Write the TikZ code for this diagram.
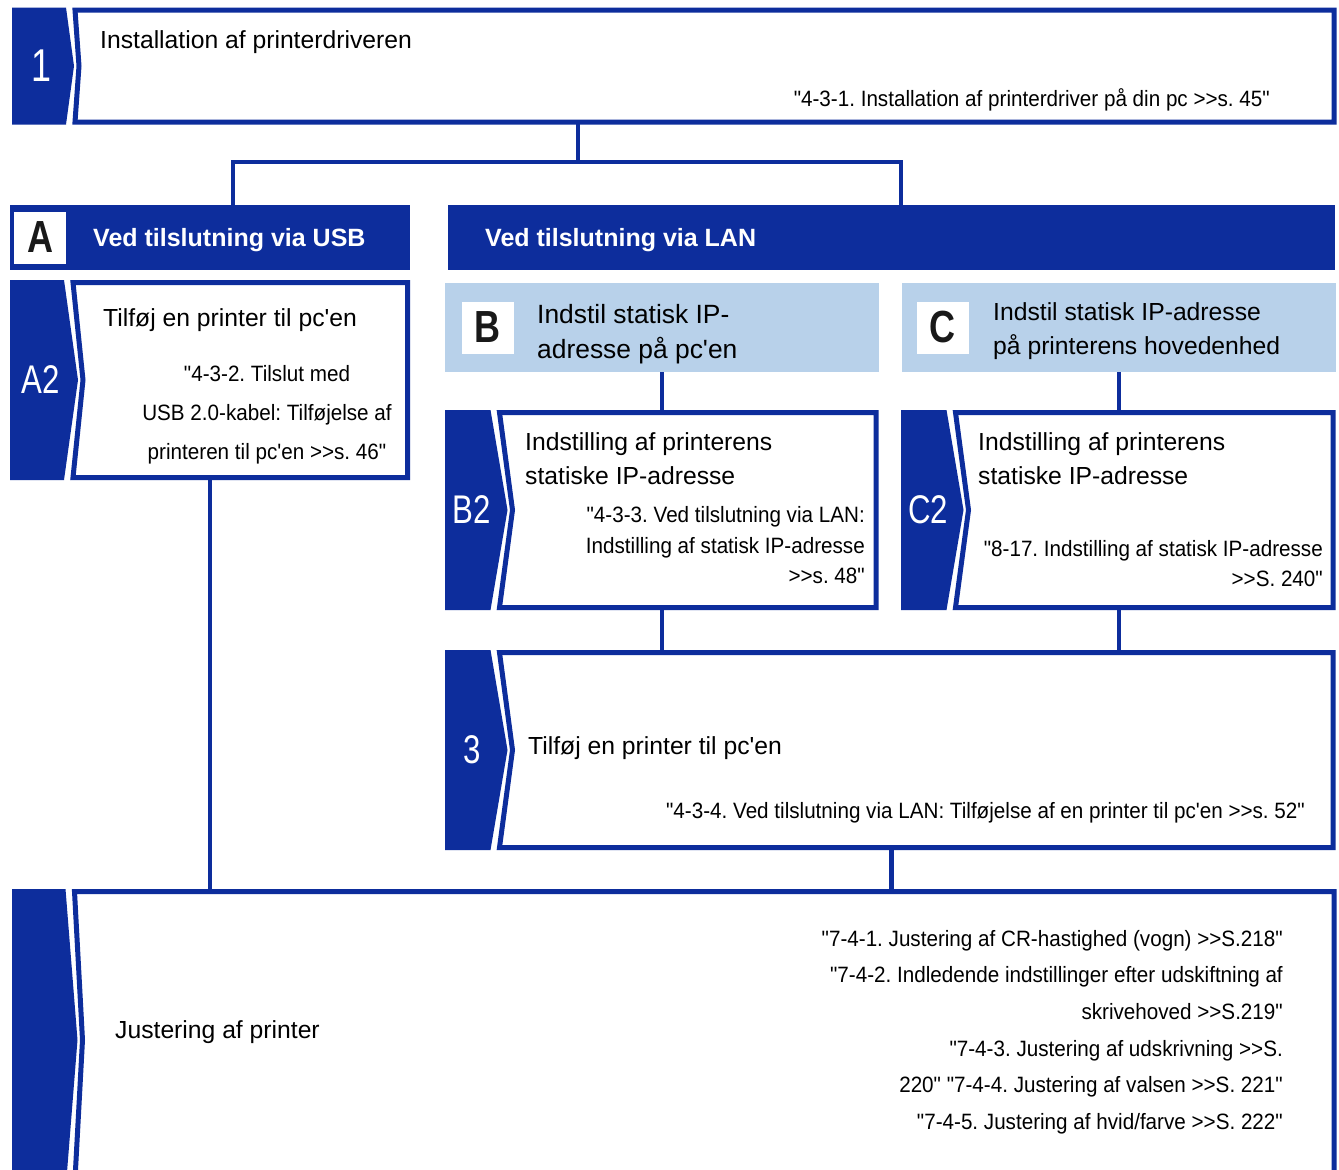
\documentclass[tikz,border=0pt]{standalone}
\usepackage{fontspec}
\setmainfont{Liberation Sans}[Ligatures=TeXOff]
\newfontfamily\reffont{Liberation Sans}[FakeStretch=0.93,Ligatures=TeXOff]
\newfontfamily\tabfont{Liberation Sans}[FakeStretch=0.78,Ligatures=TeXOff]
\newfontfamily\keyfont{Liberation Sans}[FakeStretch=0.8,Ligatures=TeXOff]
\definecolor{epblue}{RGB}{13,45,156}
\definecolor{eplight}{RGB}{184,209,234}
\frenchspacing

% blue tab + outlined box round a frame node: name, tab width, chevron depth, tab label
\newcommand\stepframe[4]{%
 \fill[epblue] ([xshift=-9pt-#2,yshift=2.5pt]#1.north west) -- ([xshift=-9pt,yshift=2.5pt]#1.north west)
  -- ([xshift=#3-9pt]#1.west) -- ([xshift=-9pt,yshift=-2.5pt]#1.south west) -- ([xshift=-9pt-#2,yshift=-2.5pt]#1.south west) -- cycle;
 \draw[frameline] (#1.north west) -- (#1.north east) -- (#1.south east) -- (#1.south west) -- ([xshift=#3-4pt]#1.west) -- cycle;
 \node[tabnum] (#1-num) at ([xshift=-9pt-#2/2+#3/4]#1.west) {#4};
}

\begin{document}
\begin{tikzpicture}[x=1pt,y=-1pt,
 stepbox/.style 2 args={inner sep=0,outer sep=0,minimum width=#1,minimum height=#2},
 hdr/.style 2 args={fill=epblue,inner sep=0,outer sep=0,minimum width=#1,minimum height=#2},
 subhdr/.style 2 args={fill=eplight,inner sep=0,outer sep=0,minimum width=#1,minimum height=#2},
 frameline/.style={draw=epblue,line width=5pt,line join=miter},
 link/.style={draw=epblue,line width=4.5pt},
 tabnum/.style={text=white,font=\tabfont\fontsize{40}{40}\selectfont,inner sep=0},
 keybox/.style={fill=white,minimum size=52,inner sep=0,text=black!90,font=\keyfont\bfseries\fontsize{45}{45}\selectfont},
 hdrtext/.style={text=white,font=\bfseries\fontsize{25}{30}\selectfont,inner sep=0,anchor=west},
 titletext/.style={font=\fontsize{24.7}{34}\selectfont,inner sep=0,align=left,anchor=west},
 reftext/.style={font=\reffont\fontsize{22.2}{#1}\selectfont,inner sep=0},
 reftext/.default=30.5]
\useasboundingbox (0,0) rectangle (1339,1170);
\clip (0,0) rectangle (1339,1170);
\fill[white] (0,0) rectangle (1339,1170);

% frames of the steps
\node[stepbox={1259}{112}] (inst) at (704.5,66) {};
\node[stepbox={334.5}{195}] (a2) at (240.25,380) {};
\node[stepbox={376.5}{195}] (b2) at (687.75,510) {};
\node[stepbox={377.5}{195}] (c2) at (1144.25,510) {};
\node[stepbox={833.5}{195}] (s3) at (916.25,750) {};
\node[stepbox={1259.5}{297}] (adj) at (704.25,1040) {};

% headers
\node[hdr={400}{65}] (usbhd) at (210,237.5) {};
\node[hdr={887}{65}] (lanhd) at (891.5,237.5) {};
\node[subhdr={434}{89}] (ipPc) at (662,327.5) {};
\node[subhdr={434}{89}] (ipPrn) at (1119,327.5) {};
\node[keybox] (usbKey) at (40,237.5) {A};
\node[keybox] (pcKey) at (487.5,327.5) {B};
\node[keybox] (prnKey) at (942.5,327.5) {C};

% connectors
\coordinate (split) at (578,162);
\draw[link] (inst.south -| split) -- (split);
\draw[link] ([xshift=23pt]usbhd.north) |- (split) -| ([xshift=9.5pt]lanhd.north);
\draw[link] (ipPc.south) -- (ipPc.south |- b2.north);
\draw[link] (ipPrn.south) -- (ipPrn.south |- c2.north);
\draw[link] (ipPc.south |- b2.south) -- (ipPc.south |- s3.north);
\draw[link] (ipPrn.south |- c2.south) -- (ipPrn.south |- s3.north);
\draw[link] (usbhd.south |- a2.south) -- (usbhd.south |- adj.north);
\draw[link] (lanhd.south |- s3.south) -- (lanhd.south |- adj.north);

\stepframe{inst}{54pt}{8pt}{\fontsize{46}{46}\selectfont 1}
\stepframe{a2}{54pt}{14pt}{A2}
\stepframe{b2}{45.5pt}{17pt}{B2}
\stepframe{c2}{45.5pt}{17pt}{C2}
\stepframe{s3}{45.5pt}{17pt}{3}
\stepframe{adj}{53.5pt}{12pt}{}

% texts
\node[titletext] (instT) at (100,42) {Installation af printerdriveren};
\node[reftext,anchor=east] (instR) at (1270,100) {"4-3-1. Installation af printerdriver på din pc >>s. 45"};
\node[hdrtext] (usbT) at (93,240) {Ved tilslutning via USB};
\node[hdrtext] (lanT) at (485,240) {Ved tilslutning via LAN};
\node[titletext,font=\fontsize{26.4}{35}\selectfont] (pcT) at (537,334) {Indstil statisk IP-\\adresse på pc'en};
\node[titletext] (prnT) at (993,331.5) {Indstil statisk IP-adresse\\på printerens hovedenhed};
\node[titletext] (a2T) at (103,320) {Tilføj en printer til pc'en};
\node[reftext=39,align=center] (a2R) at (267,415) {"4-3-2. Tilslut med\\USB 2.0-kabel: Tilføjelse af\\printeren til pc'en >>s. 46"};
\node[titletext] (b2T) at (525,459) {Indstilling af printerens\\statiske IP-adresse};
\node[reftext,align=right,anchor=east] (b2R) at (865,545.5) {"4-3-3. Ved tilslutning via LAN:\\Indstilling af statisk IP-adresse\\>>s. 48"};
\node[titletext] (c2T) at (978,459) {Indstilling af printerens\\statiske IP-adresse};
\node[reftext=30,align=right,anchor=east] (c2R) at (1323,564) {"8-17. Indstilling af statisk IP-adresse\\>>S. 240"};
\node[titletext] (s3T) at (528,748) {Tilføj en printer til pc'en};
\node[reftext,anchor=east] (s3R) at (1305,813) {"4-3-4. Ved tilslutning via LAN: Tilføjelse af en printer til pc'en >>s. 52"};
\node[titletext] (adjT) at (115,1032) {Justering af printer};
\node[reftext=36.6,align=right,anchor=east] (adjR) at (1283,1032) {"7-4-1. Justering af CR-hastighed (vogn) >>S.218"\\"7-4-2. Indledende indstillinger efter udskiftning af\\skrivehoved >>S.219"\\"7-4-3. Justering af udskrivning >>S.\\220" "7-4-4. Justering af valsen >>S. 221"\\"7-4-5. Justering af hvid/farve >>S. 222"};
\end{tikzpicture}
\end{document}
